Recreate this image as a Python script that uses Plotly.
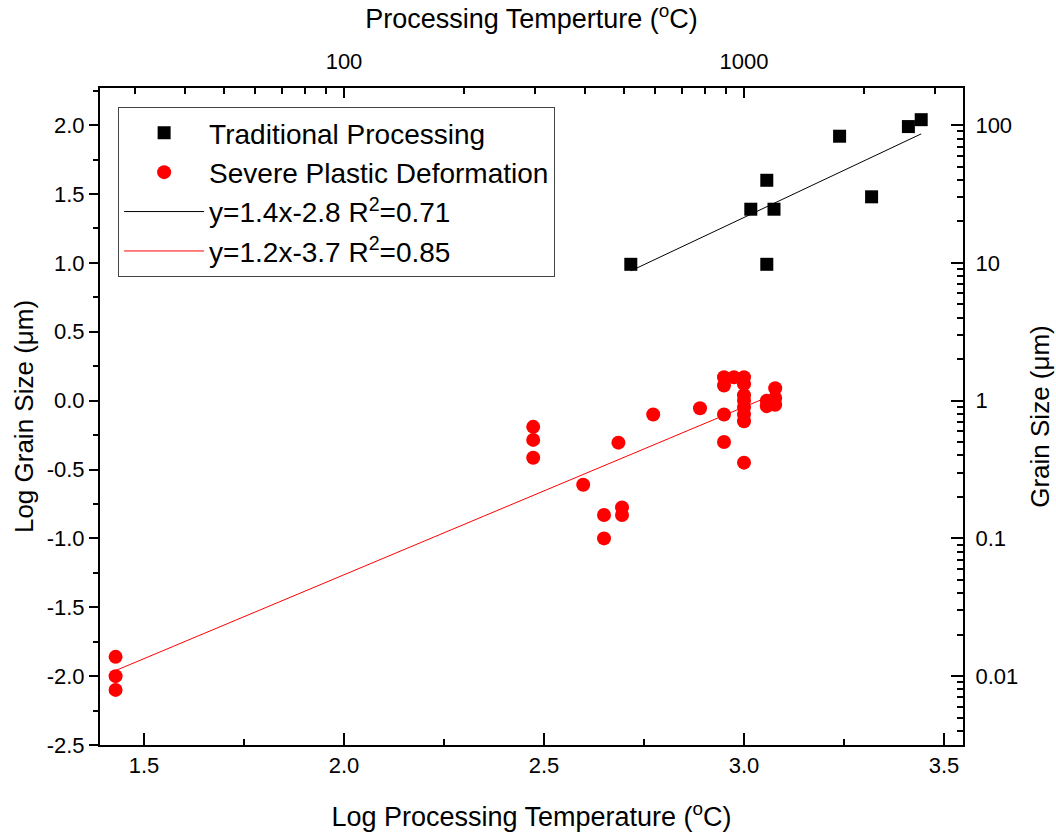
import numpy as np
import plotly.graph_objects as go

# ---- data ----
trad_x = [2.717, 3.017, 3.057, 3.075, 3.057, 3.239, 3.319, 3.411, 3.443]
trad_y = [0.99, 1.39, 1.60, 1.39, 0.99, 1.92, 1.48, 1.99, 2.04]

spd_x = [1.429, 1.429, 1.429,
         2.473, 2.473, 2.473,
         2.598, 2.650, 2.650, 2.695, 2.695, 2.686, 2.773, 2.890,
         2.950, 2.950, 2.950, 2.950, 2.975,
         3.000, 3.000, 3.000, 3.000, 3.000, 3.000, 3.000, 3.000,
         3.057, 3.057, 3.078, 3.078, 3.078]
spd_y = [-1.86, -2.00, -2.10,
         -0.19, -0.285, -0.415,
         -0.61, -0.83, -1.00, -0.775, -0.83, -0.305, -0.10, -0.055,
         0.17, 0.11, -0.10, -0.30, 0.17,
         0.17, 0.12, 0.04, 0.00, -0.05, -0.10, -0.15, -0.45,
         -0.04, 0.00, 0.09, 0.02, -0.03]

fit_black = (1.37, -2.78)     # slope, intercept
fit_black_x = [2.717, 3.443]
fit_red = (1.218, -3.70)
fit_red_x = [1.4275, 3.078]

x_range = [1.39, 3.5475]
y_range = [-2.5, 2.27]

bottom_tickvals = [1.5, 2.0, 2.5, 3.0, 3.5]
bottom_ticktext = ["1.5", "2.0", "2.5", "3.0", "3.5"]
left_tickvals = [-2.5, -2.0, -1.5, -1.0, -0.5, 0.0, 0.5, 1.0, 1.5, 2.0]
left_ticktext = ["-2.5", "-2.0", "-1.5", "-1.0", "-0.5", "0.0", "0.5", "1.0", "1.5", "2.0"]
top_tickvals = [100, 1000]
top_ticktext = ["100", "1000"]
right_tickvals = [0.01, 0.1, 1, 10, 100]
right_ticktext = ["0.01", "0.1", "1", "10", "100"]

FONT = "Liberation Sans, Arial, sans-serif"

def minor_log(lo_exp, hi_exp):
    vals = []
    for e in range(lo_exp, hi_exp + 1):
        for m in range(2, 10):
            vals.append(m * 10 ** e)
    return vals

fig = go.Figure()

fig.add_trace(go.Scatter(
    x=trad_x, y=trad_y, mode="markers", name="Traditional Processing",
    marker=dict(symbol="square", size=13, color="black")))
fig.add_trace(go.Scatter(
    x=spd_x, y=spd_y, mode="markers", name="Severe Plastic Deformation",
    marker=dict(symbol="circle", size=14, color="#ff0000")))

bx = np.array(fit_black_x)
fig.add_trace(go.Scatter(
    x=bx, y=fit_black[0] * bx + fit_black[1], mode="lines",
    name="y=1.4x-2.8 R<sup>2</sup>=0.71",
    line=dict(color="black", width=1)))
rx = np.array(fit_red_x)
fig.add_trace(go.Scatter(
    x=rx, y=fit_red[0] * rx + fit_red[1], mode="lines",
    name="y=1.2x-3.7 R<sup>2</sup>=0.85",
    line=dict(color="#ff0000", width=1)))

# invisible trace to activate secondary axes
fig.add_trace(go.Scatter(
    x=[1000], y=[1], xaxis="x2", yaxis="y2", mode="markers",
    marker=dict(opacity=0), showlegend=False, hoverinfo="skip"))

axis_common = dict(showline=True, linecolor="black", linewidth=2,
                   tickcolor="black", tickwidth=2, showgrid=False,
                   zeroline=False, tickfont=dict(family=FONT, size=22, color="black"))

fig.update_layout(
    width=1056, height=833,
    margin=dict(l=100, r=93, t=88, b=88, autoexpand=False),
    paper_bgcolor="white", plot_bgcolor="white",
    font=dict(family=FONT, color="black"),
    showlegend=True,
    legend=dict(x=0.021, y=0.971, xanchor="left", yanchor="top",
                bordercolor="#444", borderwidth=1, bgcolor="white",
                font=dict(family=FONT, size=28, color="black"),
                itemwidth=80, tracegroupgap=0),
    xaxis=dict(range=x_range, tickvals=bottom_tickvals, ticktext=bottom_ticktext,
               ticks="inside", ticklen=12,
               minor=dict(dtick=0.25, tick0=0, ticks="inside", ticklen=6, tickcolor="black", tickwidth=2),
               title=dict(text="Log Processing Temperature (<sup>o</sup>C)",
                          font=dict(family=FONT, size=27), standoff=30),
               **axis_common),
    yaxis=dict(range=y_range, tickvals=left_tickvals, ticktext=left_ticktext,
               ticks="outside", ticklen=9,
               minor=dict(dtick=0.25, tick0=0, ticks="outside", ticklen=5, tickcolor="black", tickwidth=2),
               title=dict(text="Log Grain Size (μm)",
                          font=dict(family=FONT, size=26), standoff=6),
               **axis_common),
    xaxis2=dict(type="log", range=x_range, overlaying="x", side="top",
                tickvals=top_tickvals, ticktext=top_ticktext,
                ticks="inside", ticklen=10, ticklabelstandoff=8,
                minor=dict(tickvals=minor_log(1, 3), ticks="inside", ticklen=6,
                           tickcolor="black", tickwidth=2),
                title=dict(text="Processing Temperture (<sup>o</sup>C)",
                           font=dict(family=FONT, size=27), standoff=16),
                **axis_common),
    yaxis2=dict(type="log", range=y_range, overlaying="y", side="right",
                tickvals=right_tickvals, ticktext=right_ticktext,
                ticks="inside", ticklen=12, ticklabelstandoff=6,
                minor=dict(tickvals=minor_log(-3, 2), ticks="inside", ticklen=6,
                           tickcolor="black", tickwidth=2),
                title=dict(text="Grain Size (μm)",
                           font=dict(family=FONT, size=26), standoff=14),
                **axis_common),
)

fig.write_html("out.html")
